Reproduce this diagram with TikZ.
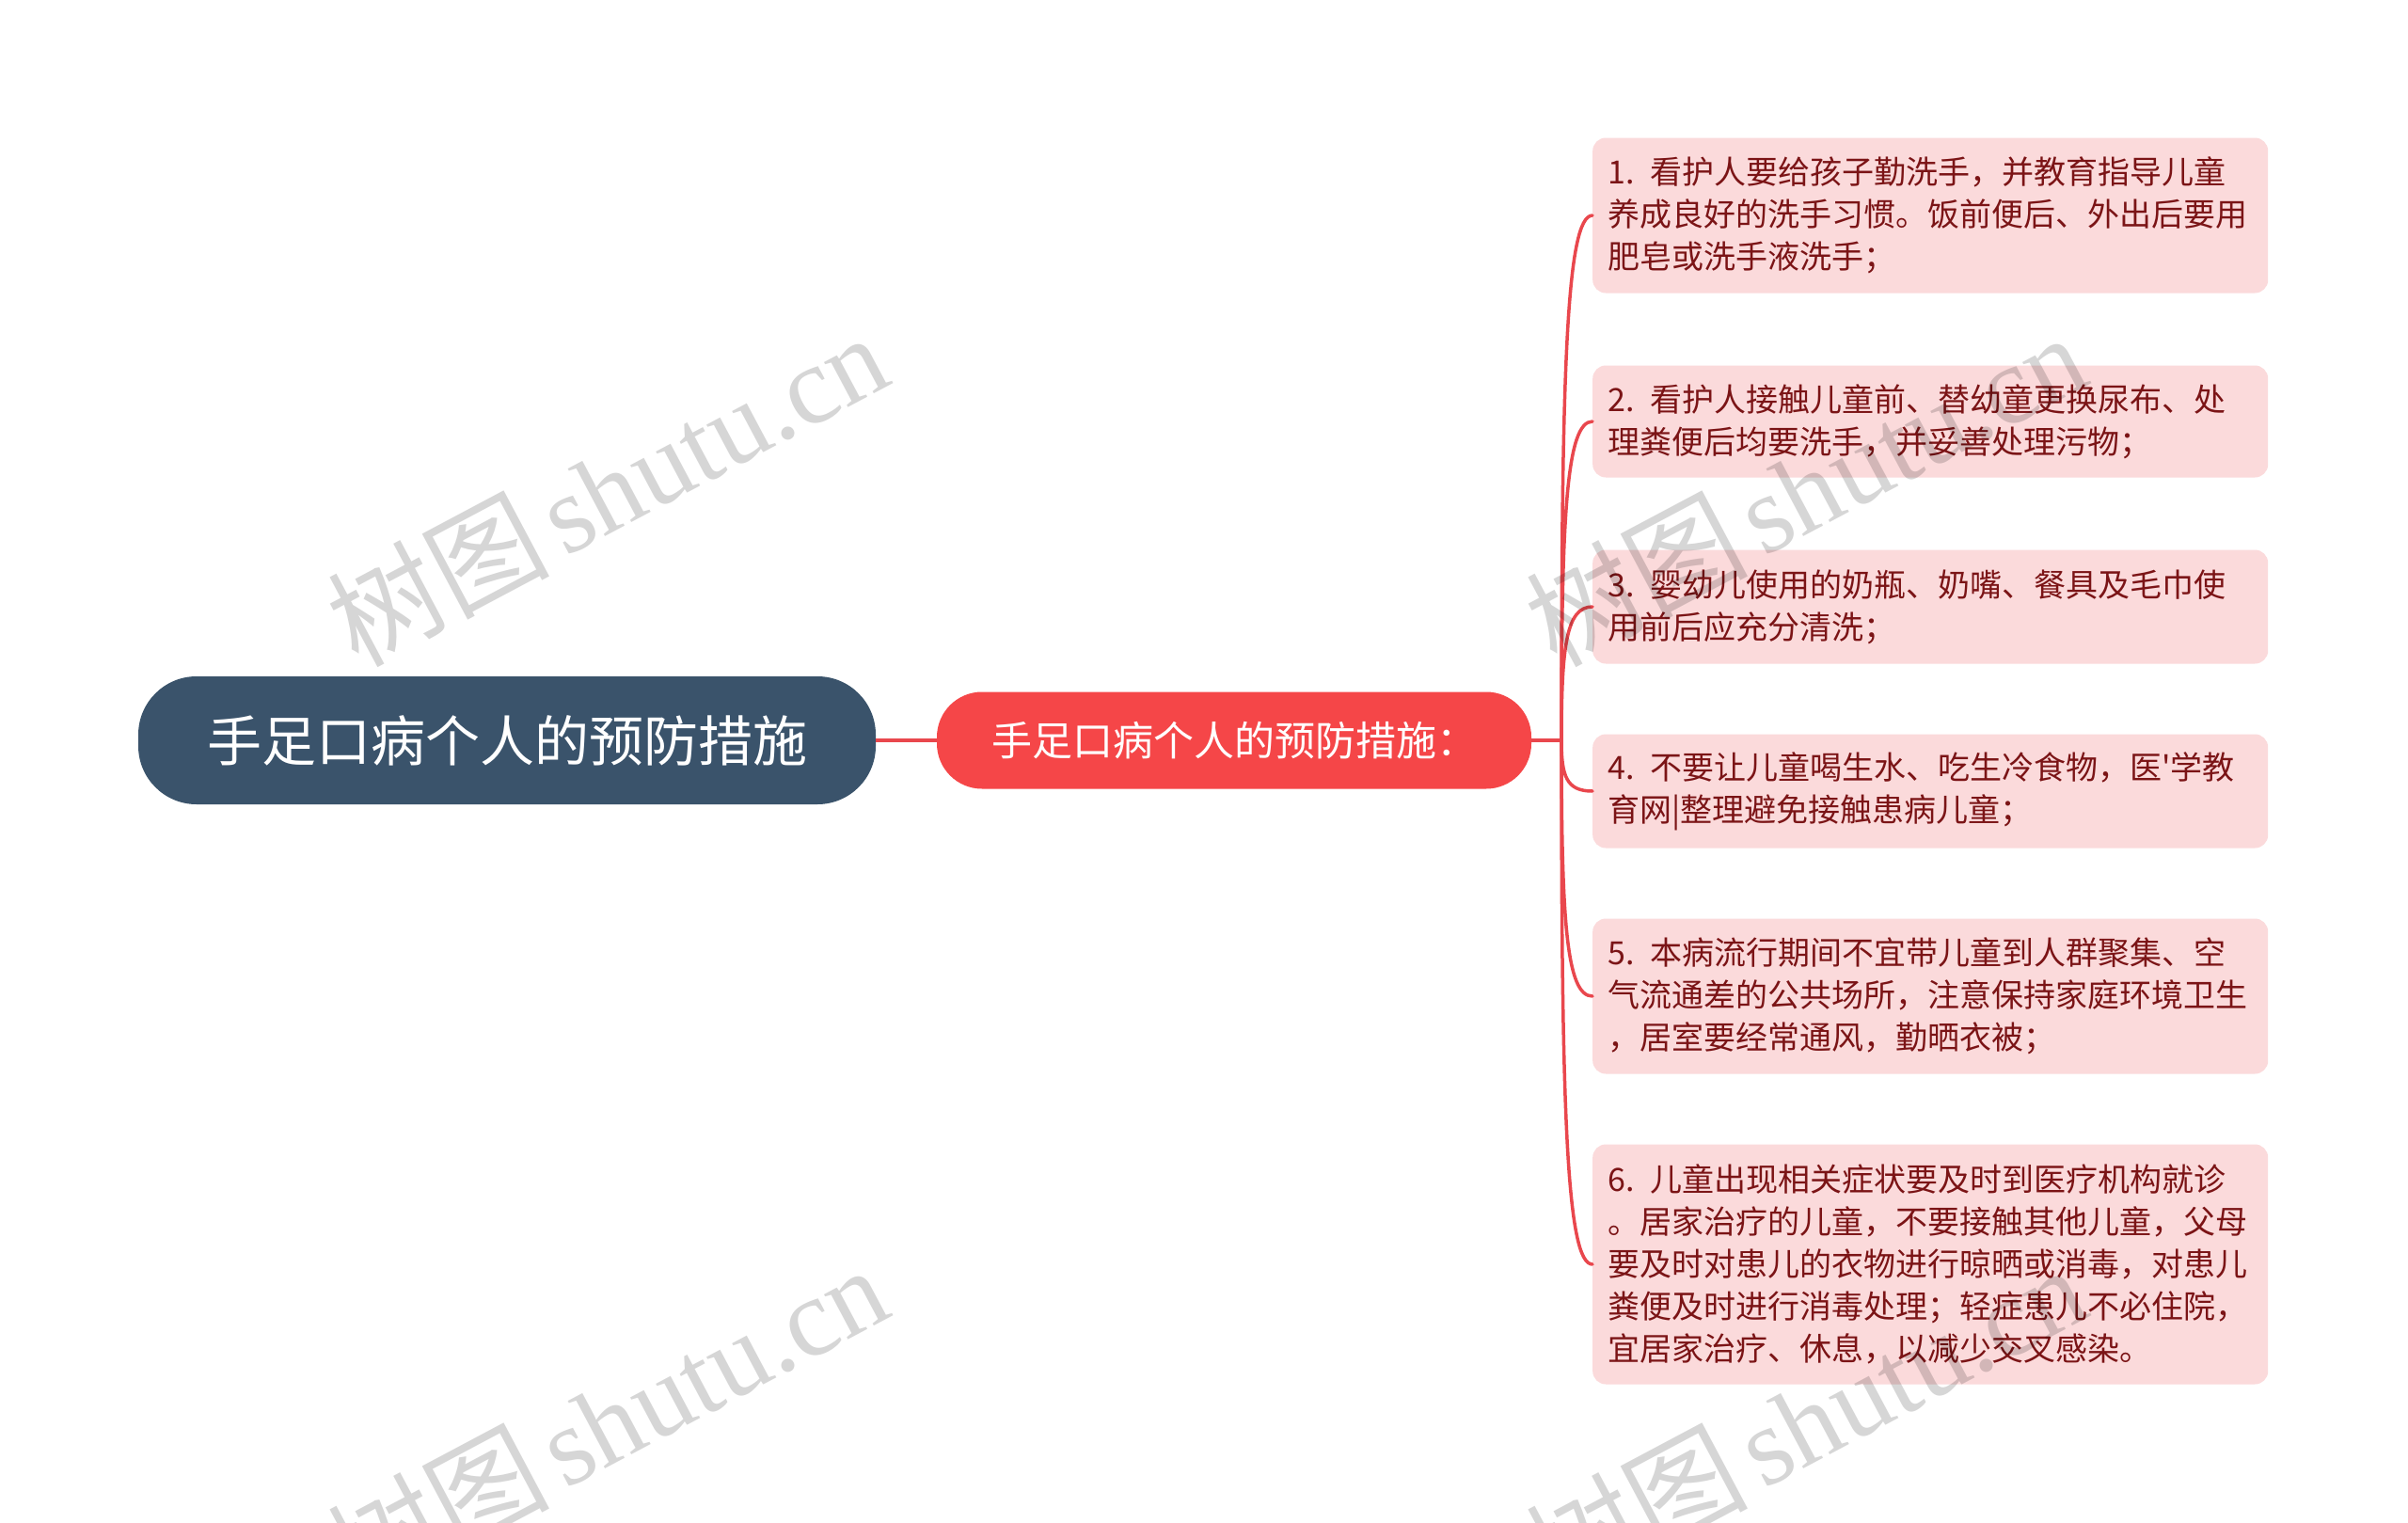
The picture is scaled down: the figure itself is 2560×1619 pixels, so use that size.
\documentclass[tikz,border=0pt]{standalone}
\usepackage{fontspec}
\newfontfamily\cjk[Ligatures=TeXOff]{Noto Sans CJK SC}
\newfontfamily\wmserif{Liberation Serif}
\usetikzlibrary{calc}
\definecolor{rootc}{HTML}{3A536B}
\definecolor{midc}{HTML}{F54648}
\definecolor{linec}{HTML}{E9474D}
\definecolor{boxc}{HTML}{FBDADB}
\definecolor{boxt}{HTML}{7B1416}
\tikzset{
  rootbox/.style={fill=rootc, text=white, rounded corners=62pt, minimum width=784pt, minimum height=136pt, inner sep=0pt, font=\cjk\fontsize{58}{62}\selectfont},
  midbox/.style={fill=midc, text=white, rounded corners=48pt, minimum width=632pt, minimum height=103pt, inner sep=0pt, font=\cjk\fontsize{43}{46}\selectfont},
  leafbox/.style={fill=boxc, text=boxt, rounded corners=14pt, anchor=west, text width=686pt, inner xsep=16pt, inner ysep=0pt, align=left, font=\cjk\fontsize{34}{45}\selectfont},
  link/.style={draw=linec, line width=4pt},
  branch/.style={draw=linec, line width=3.5pt, line cap=round},
  wmark/.style={rotate=28, text=black, text opacity=0.16, inner sep=0pt, font=\fontsize{118}{120}\selectfont}
}
\begin{document}
\begin{tikzpicture}[x=1pt,y=-1pt]
\useasboundingbox (0,0) rectangle (2560,1619);
\fill[white] (0,0) rectangle (2560,1619);

\node[rootbox] (root) at (539,787) {手足口病个人的预防措施};
\node[midbox] (mid) at (1312,787) {手足口病个人的预防措施：};
\coordinate (br) at (1660,787);

\node[leafbox, minimum height=165pt] (b1) at (1693,229) {1. 看护人要给孩子勤洗手，并教育指导儿童\\养成良好的洗手习惯。饭前便后、外出后要用\\肥皂或洗手液洗手；};
\node[leafbox, minimum height=119pt] (b2) at (1693,448) {2. 看护人接触儿童前、替幼童更换尿布、处\\理粪便后均要洗手，并妥善处理污物；};
\node[leafbox, minimum height=121pt] (b3) at (1693,645) {3. 婴幼儿使用的奶瓶、奶嘴、餐具及毛巾使\\用前后应充分清洗；};
\node[leafbox, minimum height=121pt] (b4) at (1693,841) {4. 不要让儿童喝生水、吃生冷食物，医'学教\\育网|整理避免接触患病儿童；};
\node[leafbox, minimum height=165pt] (b5) at (1693,1059) {5. 本病流行期间不宜带儿童到人群聚集、空\\气流通差的公共场所，注意保持家庭环境卫生\\，居室要经常通风，勤晒衣被；};
\node[leafbox, minimum height=255pt] (b6) at (1693,1344) {6. 儿童出现相关症状要及时到医疗机构就诊\\。居家治疗的儿童，不要接触其他儿童，父母\\要及时对患儿的衣物进行晾晒或消毒，对患儿\\粪便及时进行消毒处理；轻症患儿不必住院，\\宜居家治疗、休息，以减少交叉感染。};

\draw[link] (root.east) -- (mid.west);
\draw[link] (mid.east) -- (br);
\foreach \b in {b1,b2,b3,b4,b5,b6}{
  \draw[branch] (br) .. controls ($(br)!0.7!(br|-\b.west)$) and ($(br|-\b.west)+(5,0)$) .. (\b.west);
}

\node[wmark] (w1) at (645,519) {{\cjk 树图}\hspace{0.12em}{\wmserif shutu.cn}};
\node[wmark] (w2) at (1919,519) {{\cjk 树图}\hspace{0.12em}{\wmserif shutu.cn}};
\node[wmark] (w3) at (645,1510) {{\cjk 树图}\hspace{0.12em}{\wmserif shutu.cn}};
\node[wmark] (w4) at (1919,1510) {{\cjk 树图}\hspace{0.12em}{\wmserif shutu.cn}};
\end{tikzpicture}
\end{document}
